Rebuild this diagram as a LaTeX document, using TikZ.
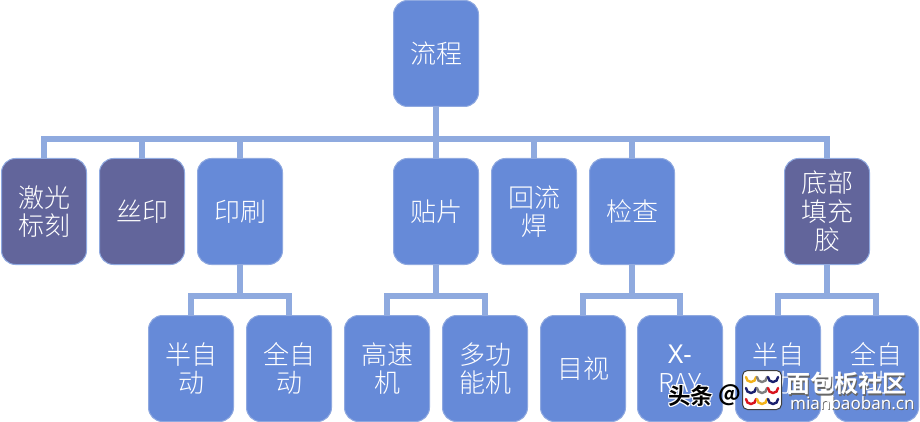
\documentclass[tikz,border=0pt]{standalone}
\usepackage{fontspec}
\usetikzlibrary{calc}
\setmainfont{Noto Sans CJK SC Light}[BoldFont={Noto Sans CJK SC Bold}]
\newfontfamily\latinf{Noto Sans}
\definecolor{lightbox}{HTML}{668AD8}
\definecolor{darkbox}{HTML}{62659B}
\definecolor{boxedge}{HTML}{8FA9E0}
\definecolor{linkc}{HTML}{8FAADF}
\definecolor{logoy}{HTML}{F2B21B}
\definecolor{logor}{HTML}{D8141E}
\definecolor{logob}{HTML}{1A1F6E}
\definecolor{logog}{HTML}{7F7F7F}
\tikzset{
  box/.style={draw=boxedge,line width=1pt,fill=lightbox,rounded corners=14pt,
    minimum width=85pt,minimum height=106pt,inner sep=0pt,text=white,
    align=center,font=\fontsize{26}{28.5}\selectfont},
  dark/.style={box,fill=darkbox},
  link/.style={draw=linkc,line width=6.5pt},
  wmblack/.style={font=\fontsize{22.5}{22.5}\selectfont\bfseries,text=black,inner sep=0pt},
  wmwhite/.style={font=\fontsize{24}{24}\selectfont\bfseries,text=white,inner sep=0pt},
  arcA/.style={line width=2.4pt,line cap=round},
}
\begin{document}
\begin{tikzpicture}[x=1pt,y=-1pt]
\useasboundingbox (0,0) rectangle (920,422);
\node[box] (root) at (436,53.5) {流程};
\node[dark] (a1) at (44,211.5) {激光\\标刻};
\node[dark] (a2) at (142,211.5) {丝印};
\node[box] (a3) at (240,211.5) {印刷};
\node[box] (a4) at (436,211.5) {贴片};
\node[box] (a5) at (534,211.5) {回流\\焊};
\node[box] (a6) at (632,211.5) {检查};
\node[dark] (a7) at (827,211.5) {底部\\填充\\胶};
\node[box] (b1) at (191,368.5) {半自\\动};
\node[box] (b2) at (289,368.5) {全自\\动};
\node[box] (b3) at (387,368.5) {高速\\机};
\node[box] (b4) at (485,368.5) {多功\\能机};
\node[box] (b5) at (583,368.5) {目视};
\node[box] (b6) at (680,368.5) {\latinf X-\\RAY};
\node[box] (b7) at (778,368.5) {半自\\动};
\node[box] (b8) at (876,368.5) {全自\\动};
% connectors
\foreach \c in {a1,a2,a3,a4,a5,a6,a7}
  \draw[link] (root.south) -- ($(root.south)+(0,32)$) -| (\c.north);
\foreach \p/\c in {a3/b1,a3/b2,a4/b3,a4/b4,a6/b5,a6/b6,a7/b7,a7/b8}
  \draw[link] (\p.south) -- ($(\p.south)+(0,31)$) -| (\c.north);
% watermark
\foreach \dx/\dy in {-1/0,1/0,0/-1,0/1,1/1,-1/-1,1/-1,-1/1}
  \node[wmblack,text=white,anchor=west] at ($(668,396)+(\dx,\dy)$) {头条};
\node[wmblack,anchor=west] (w1) at (668,396) {头条};
\node[wmblack,anchor=west] (w2) at (718,395) {@};
\node[draw=black!75,line width=1pt,fill=white,rounded corners=5pt,minimum size=39pt,inner sep=0pt] (logo) at (762,390) {};
\foreach \x/\y/\col in {-11/-11/logoy,0/-11/logog,11/-11/logob,-11/0/logob,0/0/logog,11/0/logor,-11/11/logor,0/11/logoy,11/11/logob}
  \draw[arcA,draw=\col] ($(logo)+(\x-5,\y-2)$) arc[start angle=180,end angle=360,radius=5pt];
\node[wmwhite,text=black!60,anchor=west] (w3s) at (787.5,385) {面包板社区};
\node[wmwhite,anchor=west] (w3) at (786,383.5) {面包板社区};
\node[inner sep=0pt,anchor=west,text=black!60,font=\latinf\fontsize{17}{17}\selectfont] (w4s) at (790.8,404) {mianbaoban.cn};
\node[inner sep=0pt,anchor=west,text=white,font=\latinf\fontsize{17}{17}\selectfont] (w4) at (790,403) {mianbaoban.cn};
\end{tikzpicture}
\end{document}
